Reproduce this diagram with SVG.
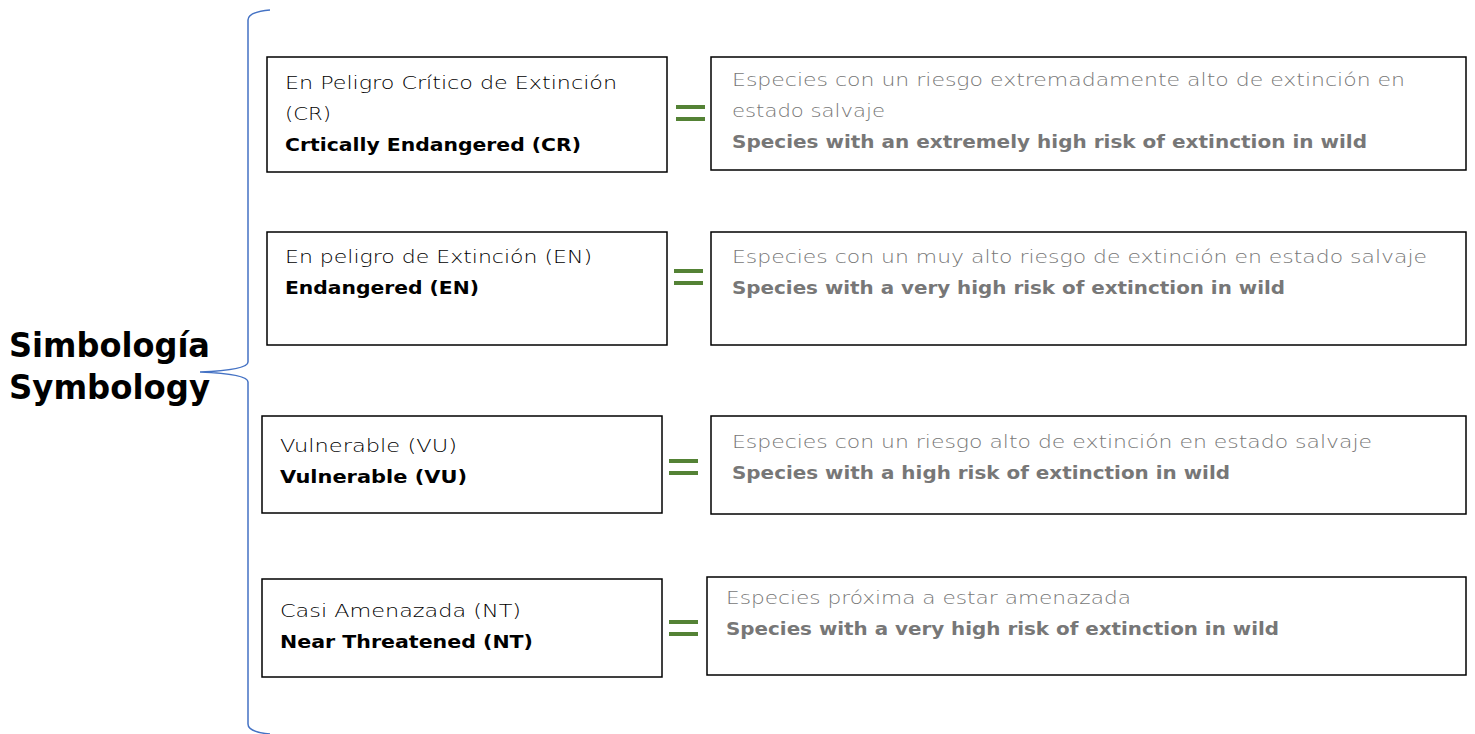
<svg xmlns="http://www.w3.org/2000/svg" width="1475" height="734" viewBox="0 0 1475 734">
<style>
.box{fill:#fff;stroke:#000;stroke-width:1.5}
.t{font-family:"DejaVu Sans","Open Sans","Liberation Sans",sans-serif;font-size:18.5px;font-weight:200;fill:#000}
.b{font-weight:700}
.g{fill:#777}
.eq{fill:#548235}
.title{font-family:"DejaVu Sans","Open Sans","Liberation Sans",sans-serif;font-size:34px;font-weight:700;fill:#000}
.brace{fill:none;stroke:#4472C4;stroke-width:1.5}
</style>
<rect width="1475" height="734" fill="#fff"/>
<g id="title">
<text class="title" x="9" y="357" textLength="201" lengthAdjust="spacingAndGlyphs">Simbología</text>
<text class="title" x="9" y="399" textLength="201" lengthAdjust="spacingAndGlyphs">Symbology</text>
</g>
<g id="connectors">
<path class="brace" d="M270 10 Q248 12 248 20 L248 362 Q248 370 200 372 Q248 374 248 382 L248 724 Q248 732 270 734"/>
<g id="eq1"><rect class="eq" x="676" y="105" width="29" height="4"/><rect class="eq" x="676" y="117" width="29" height="4"/></g>
<g id="eq2"><rect class="eq" x="674" y="269" width="29" height="4"/><rect class="eq" x="674" y="281" width="29" height="4"/></g>
<g id="eq3"><rect class="eq" x="669" y="459" width="29" height="4"/><rect class="eq" x="669" y="471" width="29" height="4"/></g>
<g id="eq4"><rect class="eq" x="669" y="620" width="29" height="4"/><rect class="eq" x="669" y="632" width="29" height="4"/></g>
</g>
<g id="cr">
<rect class="box" x="267" y="57" width="400" height="115"/>
<text class="t" x="285" y="89" textLength="332" lengthAdjust="spacingAndGlyphs">En Peligro Crítico de Extinción</text>
<text class="t" x="285" y="120" textLength="46" lengthAdjust="spacingAndGlyphs">(CR)</text>
<text class="t b" x="285" y="151" textLength="296" lengthAdjust="spacingAndGlyphs">Crtically Endangered (CR)</text>
</g>
<g id="cr-def">
<rect class="box" x="711" y="57" width="755" height="113"/>
<text class="t g" x="732" y="86" textLength="673" lengthAdjust="spacingAndGlyphs">Especies con un riesgo extremadamente alto de extinción en</text>
<text class="t g" x="732" y="117" textLength="153" lengthAdjust="spacingAndGlyphs">estado salvaje</text>
<text class="t g b" x="732" y="148" textLength="635" lengthAdjust="spacingAndGlyphs">Species with an extremely high risk of extinction in wild</text>
</g>
<g id="en">
<rect class="box" x="267" y="232" width="400" height="113"/>
<text class="t" x="285" y="263" textLength="307" lengthAdjust="spacingAndGlyphs">En peligro de Extinción (EN)</text>
<text class="t b" x="285" y="294" textLength="194" lengthAdjust="spacingAndGlyphs">Endangered (EN)</text>
</g>
<g id="en-def">
<rect class="box" x="711" y="232" width="755" height="113"/>
<text class="t g" x="732" y="263" textLength="695" lengthAdjust="spacingAndGlyphs">Especies con un muy alto riesgo de extinción en estado salvaje</text>
<text class="t g b" x="732" y="294" textLength="553" lengthAdjust="spacingAndGlyphs">Species with a very high risk of extinction in wild</text>
</g>
<g id="vu">
<rect class="box" x="262" y="416" width="400" height="97"/>
<text class="t" x="280" y="452" textLength="177" lengthAdjust="spacingAndGlyphs">Vulnerable (VU)</text>
<text class="t b" x="280" y="483" textLength="187" lengthAdjust="spacingAndGlyphs">Vulnerable (VU)</text>
</g>
<g id="vu-def">
<rect class="box" x="711" y="416" width="755" height="98"/>
<text class="t g" x="732" y="448" textLength="640" lengthAdjust="spacingAndGlyphs">Especies con un riesgo alto de extinción en estado salvaje</text>
<text class="t g b" x="732" y="479" textLength="498" lengthAdjust="spacingAndGlyphs">Species with a high risk of extinction in wild</text>
</g>
<g id="nt">
<rect class="box" x="262" y="579" width="400" height="98"/>
<text class="t" x="280" y="617" textLength="241" lengthAdjust="spacingAndGlyphs">Casi Amenazada (NT)</text>
<text class="t b" x="280" y="648" textLength="253" lengthAdjust="spacingAndGlyphs">Near Threatened (NT)</text>
</g>
<g id="nt-def">
<rect class="box" x="707" y="577" width="759" height="98"/>
<text class="t g" x="726" y="604" textLength="405" lengthAdjust="spacingAndGlyphs">Especies próxima a estar amenazada</text>
<text class="t g b" x="726" y="635" textLength="553" lengthAdjust="spacingAndGlyphs">Species with a very high risk of extinction in wild</text>
</g>
</svg>
